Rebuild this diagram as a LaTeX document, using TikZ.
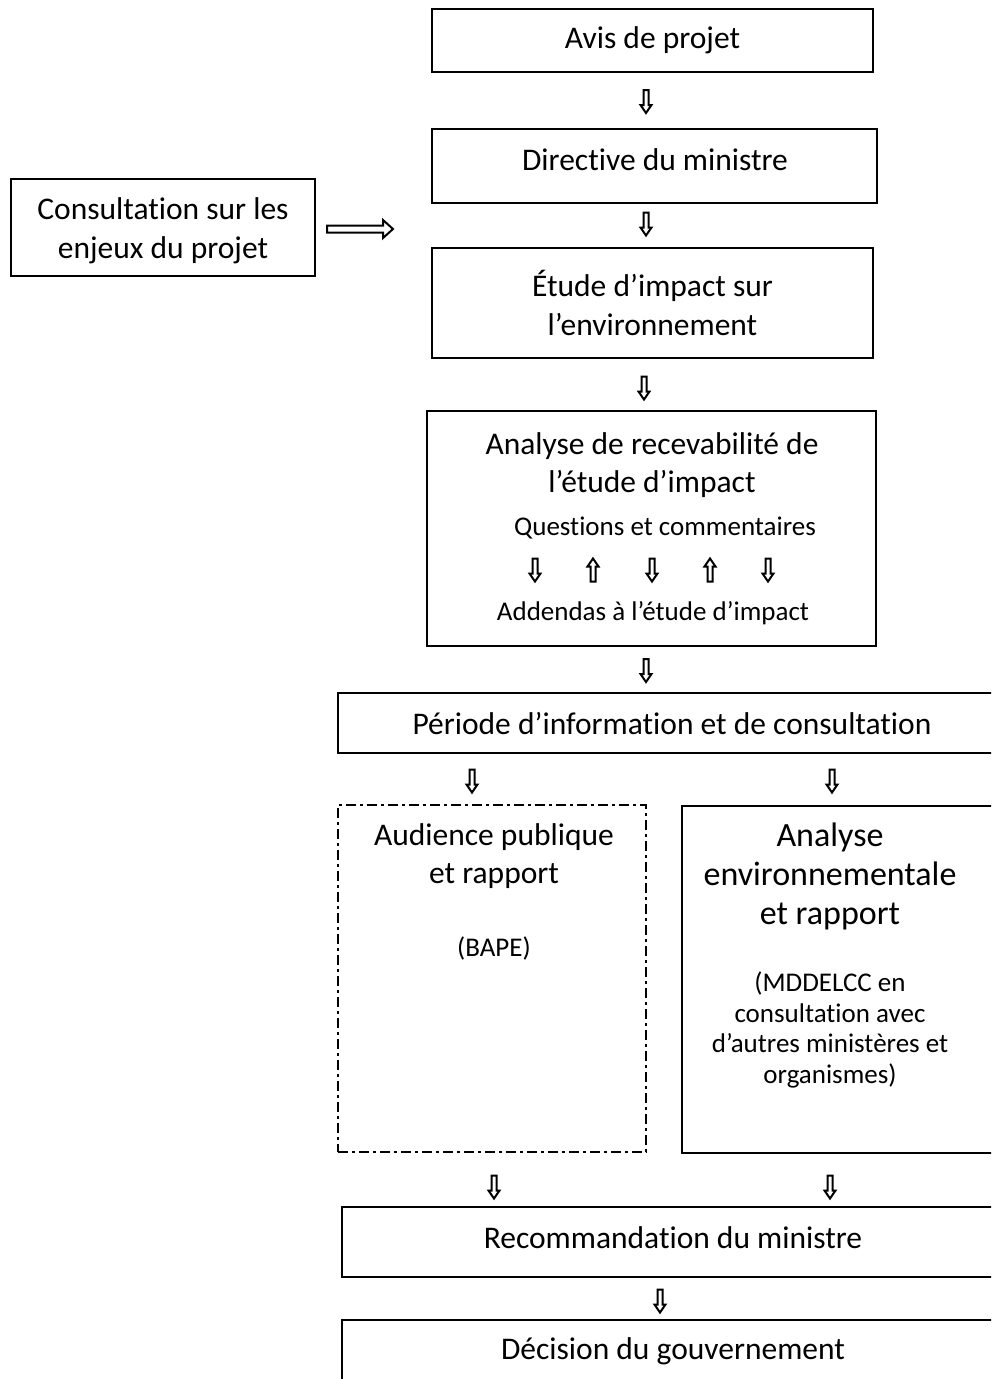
\documentclass[tikz,border=0pt]{standalone}
\usepackage{fontspec}
\setmainfont{Carlito}[Ligatures=NoCommon]
\begin{document}
\begin{tikzpicture}[x=1pt,y=-1pt,
  box/.style={draw, line width=2.6pt, inner sep=0pt, align=center, font=\fontsize{31.5}{38.5}\selectfont},
  dbox/.style={draw, line width=2.4pt, inner sep=0pt, dash pattern=on 10pt off 4pt on 3pt off 4pt},
  big/.style={inner sep=0pt, align=center, font=\fontsize{31.5}{38.5}\selectfont},
  small/.style={inner sep=0pt, align=center, font=\fontsize{27}{30.5}\selectfont},
  darr/.pic={\draw[line width=2pt, fill=white] (-2.5,-11.5) -- (2.5,-11.5) -- (2.5,3.5) -- (5.5,3.5) -- (0,11.5) -- (-5.5,3.5) -- (-2.5,3.5) -- cycle;},
  uarr/.pic={\draw[line width=2pt, fill=white] (-2.5,11.5) -- (2.5,11.5) -- (2.5,-3.5) -- (5.5,-3.5) -- (0,-11.5) -- (-5.5,-3.5) -- (-2.5,-3.5) -- cycle;},
  rarr/.pic={\draw[line width=2pt, fill=white] (-33,-3.5) -- (23,-3.5) -- (23,-9) -- (33,0) -- (23,9) -- (23,3.5) -- (-33,3.5) -- cycle;}
]
\useasboundingbox (0,0) rectangle (991,1379);
\clip (0,0) rectangle (991,1379);

% main boxes
\node[box, minimum width=441pt, minimum height=63pt] (avis) at (652.5,40.5) {Avis de projet};
\node[box, minimum width=445pt, minimum height=74pt] (dir) at (654.5,166) {};
\node[big] (dirt) at (655,160) {Directive du ministre};
\node[box, minimum width=441pt, minimum height=110pt] (etude) at (652.5,303) {\'Etude d’impact sur\\l’environnement};
\node[box, minimum width=304pt, minimum height=97pt] (cons) at (163,227.5) {};
\node[big] (const) at (163,231) {Consultation sur les\\enjeux du projet};

\node[box, minimum width=449pt, minimum height=235pt] (anal) at (651.5,528.5) {};
\node[big] (analt) at (652,465) {Analyse de recevabilit\'e de\\l’\'etude d’impact};
\node[small] (quest) at (665,528) {Questions et commentaires};
\node[small] (add) at (653,613) {Addendas \`a l’\'etude d’impact};

\node[box, minimum width=668pt, minimum height=60pt] (per) at (672,723) {P\'eriode d’information et de consultation};

\node[dbox, minimum width=308pt, minimum height=347pt] (aud) at (492,978.5) {};
\node[big] (audt) at (494,856) {Audience publique\\et rapport};
\node[small] (bape) at (494,948) {(BAPE)};

\node[box, minimum width=318pt, minimum height=347pt] (env) at (841,979.5) {};
\node[big, font=\fontsize{34}{39}\selectfont] (envt) at (830,876) {Analyse\\environnementale\\et rapport};
\node[small] (envs) at (830,1030) {(MDDELCC en\\consultation avec\\d’autres minist\`eres et\\organismes)};

\node[box, minimum width=664pt, minimum height=70pt] (rec) at (674,1242) {};
\node[big] (rect) at (673,1238) {Recommandation du ministre};
\node[box, minimum width=664pt, minimum height=120pt] (dec) at (674,1380) {};
\node[big] (dect) at (673,1351) {D\'ecision du gouvernement};

% arrows
\pic at (646,101.5) {darr};
\pic at (646,224) {darr};
\pic at (644,388) {darr};
\pic at (646,670.5) {darr};
\pic at (472,781) {darr};
\pic at (832,781) {darr};
\pic at (494,1187) {darr};
\pic at (830,1187) {darr};
\pic at (660,1301) {darr};
\pic at (360,229) {rarr};

\pic at (535,570) {darr};
\pic at (593,570) {uarr};
\pic at (652,570) {darr};
\pic at (710,570) {uarr};
\pic at (768,570) {darr};
\end{tikzpicture}
\end{document}
